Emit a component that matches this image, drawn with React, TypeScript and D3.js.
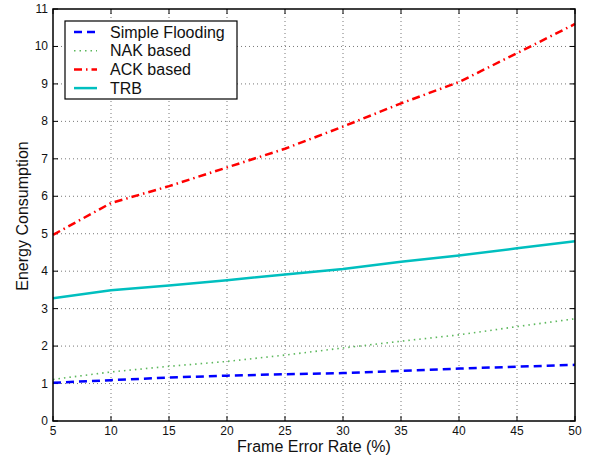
import React from "react";
import * as d3 from "d3";

const frameErrorRates = [5, 10, 15, 20, 25, 30, 35, 40, 45, 50];
const simpleFlooding = [1.02, 1.09, 1.16, 1.21, 1.25, 1.28, 1.34, 1.4, 1.45, 1.5];
const nakBased = [1.11, 1.31, 1.46, 1.59, 1.76, 1.95, 2.13, 2.3, 2.52, 2.73];
const ackBased = [4.97, 5.82, 6.27, 6.77, 7.27, 7.86, 8.48, 9.05, 9.82, 10.6];
const trb = [3.28, 3.49, 3.62, 3.76, 3.91, 4.06, 4.25, 4.42, 4.61, 4.8];
const xTicks = [5, 10, 15, 20, 25, 30, 35, 40, 45, 50];
const yTicks = [0, 1, 2, 3, 4, 5, 6, 7, 8, 9, 10, 11];

const seriesNames = ["Simple Flooding", "NAK based", "ACK based", "TRB"];
const seriesValues = [simpleFlooding, nakBased, ackBased, trb];
const seriesColors = ["#0000ff", "#5cb85c", "#ff0000", "#00bfbf"];
const seriesDash = ["8,5", "1.5,4", "8,4,1.5,4", ""];
const seriesWidth = [2.5, 1.6, 2.5, 2.5];

export default function App() {
  const W = 600, H = 459;
  const L = 53, R = 575, T = 9, B = 421;
  const x = d3.scaleLinear().domain([5, 50]).range([L, R]);
  const y = d3.scaleLinear().domain([0, 11]).range([B, T]);
  const font = "'Liberation Sans', Arial, Helvetica, sans-serif";
  const line = d3
    .line<number>()
    .x((_, i) => x(frameErrorRates[i]))
    .y((d) => y(d));

  return (
    <svg
      width={W}
      height={H}
      style={{ position: "absolute", left: 0, top: 0, background: "#fff" }}
      fontFamily={font}
    >
      <rect x={0} y={0} width={W} height={H} fill="#fff" />
      {/* grid */}
      {xTicks.slice(1, -1).map((t) => (
        <line key={"gx" + t} x1={x(t)} x2={x(t)} y1={T} y2={B} stroke="#555" strokeWidth={0.8} strokeDasharray="1,3" />
      ))}
      {yTicks.slice(1, -1).map((t) => (
        <line key={"gy" + t} x1={L} x2={R} y1={y(t)} y2={y(t)} stroke="#555" strokeWidth={0.8} strokeDasharray="1,3" />
      ))}
      {/* ticks inward */}
      {xTicks.map((t) => (
        <g key={"tx" + t}>
          <line x1={x(t)} x2={x(t)} y1={B} y2={B - 5} stroke="#000" />
          <line x1={x(t)} x2={x(t)} y1={T} y2={T + 5} stroke="#000" />
          <text x={x(t)} y={B + 14} fontSize={12} textAnchor="middle" fill="#111">
            {t}
          </text>
        </g>
      ))}
      {yTicks.map((t) => (
        <g key={"ty" + t}>
          <line x1={L} x2={L + 5} y1={y(t)} y2={y(t)} stroke="#000" />
          <line x1={R} x2={R - 5} y1={y(t)} y2={y(t)} stroke="#000" />
          <text x={L - 5} y={y(t) + 4} fontSize={12} textAnchor="end" fill="#111">
            {t}
          </text>
        </g>
      ))}
      {/* series */}
      {seriesValues.map((vals, i) => (
        <path
          key={seriesNames[i]}
          d={line(vals) || ""}
          fill="none"
          stroke={seriesColors[i]}
          strokeWidth={seriesWidth[i]}
          strokeDasharray={seriesDash[i] || undefined}
        />
      ))}
      {/* frame */}
      <rect x={L} y={T} width={R - L} height={B - T} fill="none" stroke="#000" strokeWidth={1.5} />
      {/* legend */}
      <g>
        <rect x={65} y={21} width={172} height={78} fill="#fff" stroke="#000" strokeWidth={1.2} />
        {seriesNames.map((n, i) => (
          <g key={"lg" + n}>
            <line
              x1={74}
              x2={97}
              y1={32 + i * 18.7}
              y2={32 + i * 18.7}
              stroke={seriesColors[i]}
              strokeWidth={seriesWidth[i]}
              strokeDasharray={seriesDash[i] || undefined}
            />
            <text x={110} y={32 + i * 18.7 + 5.5} fontSize={16} fill="#111">
              {n}
            </text>
          </g>
        ))}
      </g>
      {/* axis labels */}
      <text x={(L + R) / 2} y={452} fontSize={16} textAnchor="middle" fill="#111">
        Frame Error Rate (%)
      </text>
      <text
        transform={`translate(28,${(T + B) / 2 + 1}) rotate(-90)`}
        fontSize={16}
        textAnchor="middle"
        fill="#111"
      >
        Energy Consumption
      </text>
    </svg>
  );
}
